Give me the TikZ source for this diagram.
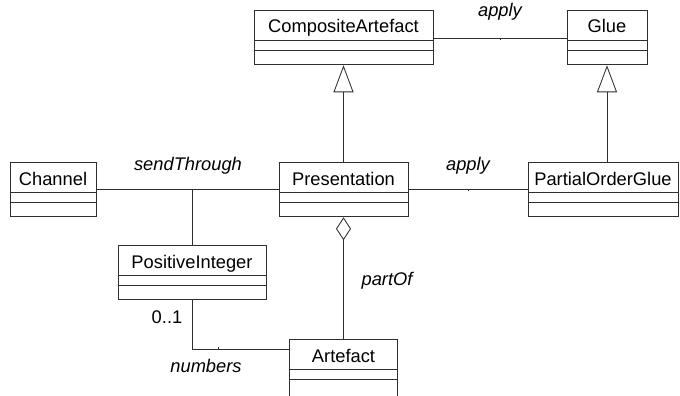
\documentclass[tikz,border=0pt]{standalone}
\usepackage{fontspec}
\setmainfont{Liberation Sans}
\usetikzlibrary{arrows.meta}
\definecolor{edge}{HTML}{2E2E2E}
\begin{document}
\begin{tikzpicture}[x=1pt,y=-1pt,
  every path/.style={line width=0.85pt},
  % class header compartment (holds the class name)
  cname/.style={draw=edge, minimum height=30pt, inner sep=0pt,
    text height=21pt, text depth=5pt, font=\fontsize{18.3}{20}\selectfont},
  % attribute + operation compartments below the header
  cbody/.style={draw=edge, minimum height=#1, inner sep=0pt, anchor=north,
    path picture={\draw[edge] ([yshift=-10pt]path picture bounding box.north west)
      -- ([yshift=-10pt]path picture bounding box.north east);}},
  cbody/.default=24pt,
  assoc/.style={draw=edge},
  gen/.style={draw=edge, -{Triangle[open, length=27pt, width=20pt]}},
  agg/.style={draw=edge, {Diamond[open, length=23pt, width=15pt]}-},
  tick/.style={draw=edge, line width=0.8pt},
  lbl/.style={anchor=base, inner sep=0pt, font=\fontsize{18.3}{20}\selectfont\itshape},
  mult/.style={anchor=base, inner sep=0pt, font=\fontsize{18.3}{20}\selectfont}
]
\useasboundingbox[fill=white] (0,0) rectangle (680,396);

% classes
\node[cname, minimum width=179pt] (ca) at (343.5,25) {CompositeArtefact};
\node[cbody, minimum width=179pt] (caB) at (ca.south) {};

\node[cname, minimum width=80pt] (glue) at (607,25) {Glue};
\node[cbody, minimum width=80pt] (glueB) at (glue.south) {};

\node[cname, minimum width=86pt] (ch) at (53,177) {Channel};
\node[cbody, minimum width=86pt] (chB) at (ch.south) {};

\node[cname, minimum width=129pt] (pres) at (343.5,177) {Presentation};
\node[cbody, minimum width=129pt] (presB) at (pres.south) {};

\node[cname, minimum width=150pt] (pog) at (603,177) {PartialOrderGlue};
\node[cbody, minimum width=150pt] (pogB) at (pog.south) {};

\node[cname, minimum width=148pt] (pi) at (192,260) {PositiveInteger};
\node[cbody, minimum width=148pt] (piB) at (pi.south) {};

\node[cname, minimum width=108pt] (art) at (343.5,354) {Artefact};
\node[cbody=30pt, minimum width=108pt] (artB) at (art.south) {};

% associations
\draw[assoc] ([yshift=-13pt]ca.east) -- coordinate[pos=0.5] (m1) ([yshift=-13pt]glue.west);
\draw[tick] (m1) -- ++(0,2);
\node[lbl] (lapply1) at (500,17) {apply};

\draw[assoc] ([yshift=-12pt]ch.east) -- coordinate[pos=0.5] (m2) ([yshift=-12pt]pres.west);
\draw[assoc] (pi.north) -- (pi.north |- m2);
\node[lbl] (lsend) at (188,170) {sendThrough};

\draw[assoc] ([yshift=-12pt]pres.east) -- coordinate[pos=0.5] (m3) ([yshift=-12pt]pog.west);
\draw[tick] (m3) -- ++(0,2);
\node[lbl] (lapply2) at (468,170) {apply};

\draw[assoc] (piB.south) |- coordinate[pos=0.5] (m4) ([yshift=5pt]art.west);
\coordinate (m4t) at (218,349);
\draw[tick] (m4t) -- ++(0,-2);
\node[mult] (lmult) at (167,323) {0..1};
\node[lbl] (lnum) at (206,372) {numbers};

% generalizations
\draw[gen] (pres.north) -- (caB.south);
\draw[gen] (pog.north -| glueB.south) -- (glueB.south);

% aggregation
\draw[agg] (presB.south) -- (art.north);
\node[lbl] (lpart) at (387,285) {partOf};
\end{tikzpicture}
\end{document}
